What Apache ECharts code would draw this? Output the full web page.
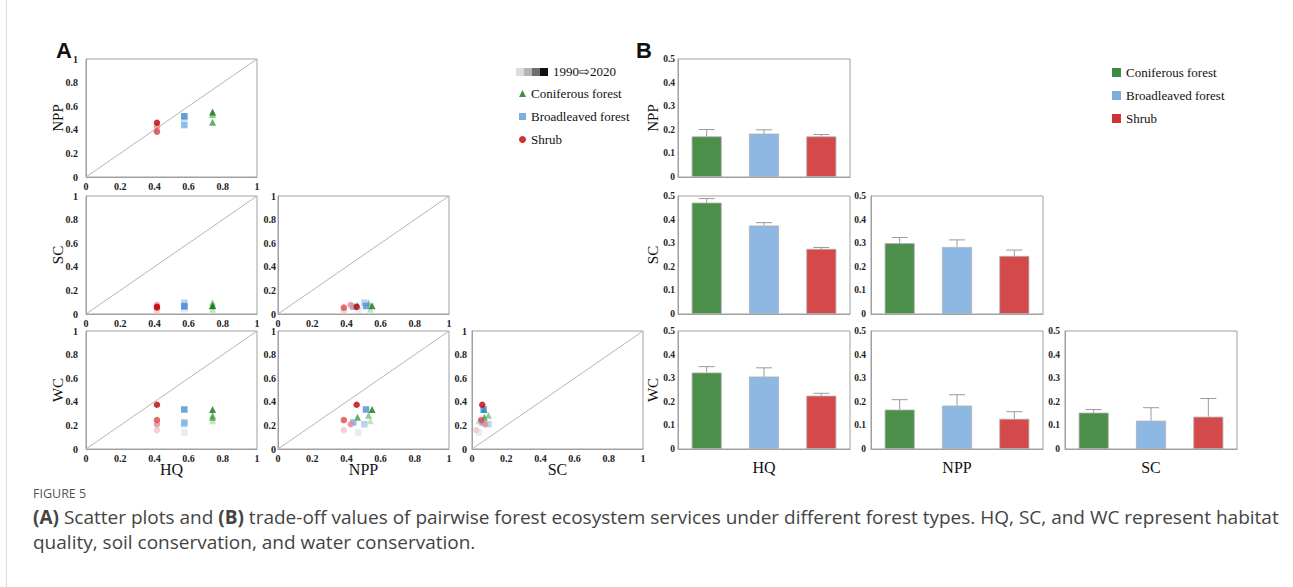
<!DOCTYPE html>
<html><head><meta charset="utf-8">
<script src="https://cdn.jsdelivr.net/npm/echarts@6/dist/echarts.min.js"></script>
<style>html,body{margin:0;padding:0;background:#fff;}#c{width:1293px;height:587px;}</style>
</head><body><div id="c"></div>
<script>
// ---------- data ----------
const years = ['1990', '2000', '2010', '2020'];
const forestTypes = ['Coniferous forest', 'Broadleaved forest', 'Shrub'];
const scatterTicks = [0, 0.2, 0.4, 0.6, 0.8, 1];
const barTicks = [0, 0.1, 0.2, 0.3, 0.4, 0.5];

// scatter values, ordered 1990, 2000, 2010, 2020
const conifHQ  = [0.74, 0.74, 0.74, 0.74];
const conifNPP = [0.54, 0.53, 0.465, 0.55];
const conifSC  = [0.04, 0.096, 0.072, 0.07];
const conifWC  = [0.24, 0.285, 0.27, 0.335];
const broadHQ  = [0.575, 0.575, 0.575, 0.575];
const broadNPP = [0.47, 0.505, 0.44, 0.515];
const broadSC  = [0.04, 0.096, 0.062, 0.068];
const broadWC  = [0.14, 0.21, 0.225, 0.335];
const shrubHQ  = [0.415, 0.415, 0.415, 0.415];
const shrubNPP = [0.385, 0.425, 0.385, 0.46];
const shrubSC  = [0.025, 0.076, 0.054, 0.06];
const shrubWC  = [0.16, 0.21, 0.245, 0.375];

// trade-off values (coniferous, broadleaved, shrub) and error bars
const tradeHQ_NPP = [0.172, 0.184, 0.172];  const errHQ_NPP = [0.029, 0.016, 0.008];
const tradeHQ_SC  = [0.472, 0.375, 0.276];  const errHQ_SC  = [0.017, 0.012, 0.006];
const tradeNPP_SC = [0.300, 0.284, 0.246];  const errNPP_SC = [0.024, 0.030, 0.025];
const tradeHQ_WC  = [0.324, 0.307, 0.226];  const errHQ_WC  = [0.025, 0.037, 0.010];
const tradeNPP_WC = [0.167, 0.184, 0.128];  const errNPP_WC = [0.042, 0.046, 0.030];
const tradeSC_WC  = [0.154, 0.120, 0.137];  const errSC_WC  = [0.013, 0.055, 0.077];

const diagonal = [[0, 0], [1, 1]];

// ---------- styles / layout ----------
const typeValues = {
  'Coniferous forest': {HQ: conifHQ, NPP: conifNPP, SC: conifSC, WC: conifWC},
  'Broadleaved forest': {HQ: broadHQ, NPP: broadNPP, SC: broadSC, WC: broadWC},
  'Shrub': {HQ: shrubHQ, NPP: shrubNPP, SC: shrubSC, WC: shrubWC}
};
const typeSymbols = {'Coniferous forest': 'triangle', 'Broadleaved forest': 'rect', 'Shrub': 'circle'};
const typeSymbolSize = {'Coniferous forest': 7, 'Broadleaved forest': 6.5, 'Shrub': 6.5};
const typeShades = {
  'Coniferous forest': ['#b9dcb2', '#80c079', '#3d9c3d', '#147514'],
  'Broadleaved forest': ['#dce9f7', '#aacaec', '#79afe2', '#4b8ed6'],
  'Shrub': ['#f6c3c9', '#e8888e', '#d94848', '#c00000']
};
const legendColors = {'Coniferous forest': '#137313', 'Broadleaved forest': '#5b9bd5', 'Shrub': '#c00000'};
const barColors = ['#4b8f4b', '#8cb8e3', '#d44a4a'];

const panels = [
  {x: 'HQ', y: 'NPP', row: 0, col: 0, mean: tradeHQ_NPP, err: errHQ_NPP},
  {x: 'HQ', y: 'SC', row: 1, col: 0, mean: tradeHQ_SC, err: errHQ_SC},
  {x: 'NPP', y: 'SC', row: 1, col: 1, mean: tradeNPP_SC, err: errNPP_SC},
  {x: 'HQ', y: 'WC', row: 2, col: 0, mean: tradeHQ_WC, err: errHQ_WC},
  {x: 'NPP', y: 'WC', row: 2, col: 1, mean: tradeNPP_WC, err: errNPP_WC},
  {x: 'SC', y: 'WC', row: 2, col: 2, mean: tradeSC_WC, err: errSC_WC}
];
const rowTops = [59, 196, 331];
const rowH = 118;
const scatterLefts = [86, 278, 472];
const scatterYLabelMargin = [8, 2, 5];
const scatterW = 171;
const barLefts = [678, 871, 1065];
const barYLabelMargin = [3, 5, 5];
const barW = 172;

const serif = 'Liberation Serif, Times New Roman, serif';
const tickLabel = {fontFamily: serif, fontWeight: 'bold', fontSize: 10, color: '#222'};
const barTickLabel = {fontFamily: serif, fontWeight: 'bold', fontSize: 9.5, color: '#222'};
const nameStyle = {fontFamily: serif, fontSize: 15, color: '#111'};
const xNameStyle = {fontFamily: serif, fontSize: 16, color: '#111'};
const axisLine = {show: true, lineStyle: {color: '#a0a0a0', width: 1}};

function barCategories() { return forestTypes.slice(); }

const grids = [], xAxes = [], yAxes = [], series = [];

panels.forEach((p) => {
  // scatter panel
  const gi = grids.length;
  grids.push({left: scatterLefts[p.col], top: rowTops[p.row], width: scatterW, height: rowH,
    show: true, borderColor: '#a0a0a0', borderWidth: 1});
  xAxes.push({gridIndex: gi, type: 'value', min: 0, max: 1, interval: 0.2,
    axisLine: axisLine, axisTick: {show: false}, splitLine: {show: false},
    axisLabel: Object.assign({margin: 4}, tickLabel),
    name: p.row === 2 ? p.x : '', nameLocation: 'middle', nameGap: 12, nameMoveOverlap: false, nameTextStyle: xNameStyle});
  yAxes.push({gridIndex: gi, type: 'value', min: 0, max: 1, interval: 0.2,
    axisLine: axisLine, axisTick: {show: false}, splitLine: {show: false},
    axisLabel: Object.assign({margin: scatterYLabelMargin[p.col]}, tickLabel),
    name: p.col === 0 ? p.y : '', nameLocation: 'middle', nameGap: 20.5, nameMoveOverlap: false, nameRotate: 90, nameTextStyle: nameStyle});
  series.push({type: 'line', xAxisIndex: gi, yAxisIndex: gi, data: diagonal, symbol: 'none',
    silent: true, lineStyle: {color: '#b5b5b5', width: 1}, z: 1});
  forestTypes.forEach((t) => {
    const v = typeValues[t];
    series.push({
      type: 'scatter', name: t, xAxisIndex: gi, yAxisIndex: gi,
      symbol: typeSymbols[t], symbolSize: typeSymbolSize[t],
      itemStyle: {color: legendColors[t]}, z: 3,
      data: years.map((yr, i) => ({value: [v[p.x][i], v[p.y][i]], itemStyle: {color: typeShades[t][i]}}))
    });
  });

  // bar panel
  const bi = grids.length;
  grids.push({left: barLefts[p.col], top: rowTops[p.row], width: barW, height: rowH,
    show: true, borderColor: '#a0a0a0', borderWidth: 1});
  xAxes.push({gridIndex: bi, type: 'category', data: barCategories(),
    axisLine: axisLine, axisTick: {show: false}, axisLabel: {show: false},
    name: p.row === 2 ? p.x : '', nameLocation: 'middle', nameGap: 10, nameMoveOverlap: false, nameTextStyle: xNameStyle});
  yAxes.push({gridIndex: bi, type: 'value', min: 0, max: 0.5, interval: 0.1,
    axisLine: axisLine, axisTick: {show: false}, splitLine: {show: false},
    axisLabel: Object.assign({margin: barYLabelMargin[p.col]}, barTickLabel),
    name: p.col === 0 ? p.y : '', nameLocation: 'middle', nameGap: 17.5, nameMoveOverlap: false, nameRotate: 90, nameTextStyle: nameStyle});
  series.push({type: 'bar', name: 'trade-off', xAxisIndex: bi, yAxisIndex: bi, barWidth: 30,
    data: p.mean.map((m, i) => ({value: m, itemStyle: {color: barColors[i], borderColor: '#b0b0b0', borderWidth: 0.8}})), z: 2});
  series.push({type: 'custom', name: 'error', xAxisIndex: bi, yAxisIndex: bi, z: 3, silent: true,
    data: p.mean.map((m, i) => [i, m, p.err[i]]),
    renderItem: (params, api) => {
      const x = api.value(0), m = api.value(1), e = api.value(2);
      const a = api.coord([x, m]), b = api.coord([x, m + e]);
      return {type: 'group', children: [
        {type: 'line', shape: {x1: a[0], y1: a[1], x2: b[0], y2: b[1]}, style: {stroke: '#9a9a9a', lineWidth: 1}},
        {type: 'line', shape: {x1: b[0] - 8, y1: b[1], x2: b[0] + 8, y2: b[1]}, style: {stroke: '#9a9a9a', lineWidth: 1}}
      ]};
    }});
});

const gradShades = ['#dcdcdc', '#b4b4b4', '#6e6e6e', '#111111'];
const capFont = 'Open Sans, sans-serif';
const graphics = [
  {type: 'line', shape: {x1: 6.5, y1: 0, x2: 6.5, y2: 587}, style: {stroke: '#dddddd', lineWidth: 1}},
  {type: 'text', left: 56, top: 39, style: {text: 'A', font: 'bold 22px Liberation Sans, Arial, sans-serif', fill: '#111'}},
  {type: 'text', left: 636, top: 39, style: {text: 'B', font: 'bold 22px Liberation Sans, Arial, sans-serif', fill: '#111'}},
  {type: 'text', left: 553, top: 65, style: {text: '1990\u21E82020', font: '13px ' + serif, fill: '#111'}},
  {type: 'text', left: 33, top: 487, style: {text: 'FIGURE 5', font: '12.5px ' + capFont, fill: '#555'}},
  {type: 'text', left: 33, top: 507, style: {
    rich: {b: {fontFamily: 'Open Sans', fontWeight: 'bold', fontSize: 19, color: '#444'},
           n: {fontFamily: 'Open Sans', fontSize: 19, color: '#444'}},
    text: '{b|(A)}{n| Scatter plots and }{b|(B)}{n| trade-off values of pairwise forest ecosystem services under different forest types. HQ, SC, and WC represent habitat}',
    fill: '#444'}},
  {type: 'text', left: 33, top: 532, style: {text: 'quality, soil conservation, and water conservation.', font: '19px ' + capFont, fill: '#444'}}
];
gradShades.forEach((c, i) => graphics.push({type: 'rect', shape: {x: 516 + i * 8, y: 68, width: 8, height: 8}, style: {fill: c}}));

const chart = echarts.init(document.getElementById('c'), null, {renderer: 'svg', width: 1293, height: 587});
chart.setOption({
  backgroundColor: '#fff',
  animation: false,
  grid: grids,
  xAxis: xAxes,
  yAxis: yAxes,
  legend: [
    {left: 514, top: 82, orient: 'vertical', itemGap: 10, itemWidth: 7, itemHeight: 7, selectedMode: false,
      textStyle: {fontFamily: serif, fontSize: 13, color: '#111'},
      data: forestTypes.map(t => ({name: t, icon: typeSymbols[t], itemStyle: {color: legendColors[t]}}))},
    {left: 1107, top: 61, orient: 'vertical', itemGap: 10, itemWidth: 9, itemHeight: 9, selectedMode: false,
      textStyle: {fontFamily: serif, fontSize: 13, color: '#111'},
      data: forestTypes.map((t, i) => ({name: t, icon: 'rect', itemStyle: {color: ['#0a6e14', '#5b9bd5', '#c00000'][i]}}))}
  ],
  graphic: graphics,
  series: series
});
</script>
</body></html>
